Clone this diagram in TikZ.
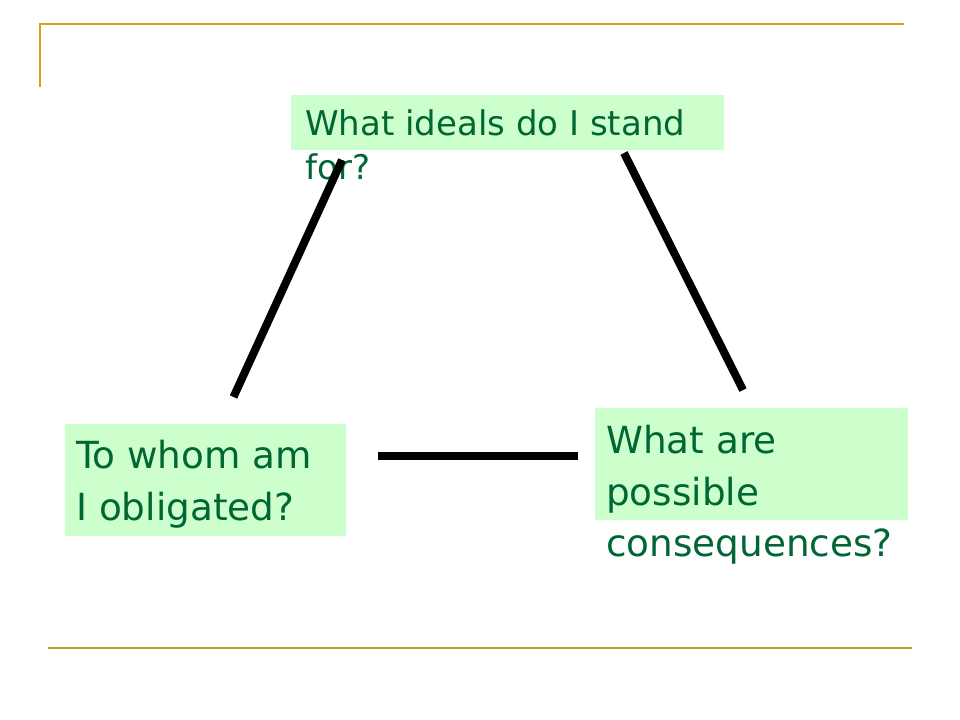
\documentclass[tikz,border=0pt]{standalone}
\usepackage{fontspec}
\setmainfont{DejaVu Sans}
\definecolor{boxgreen}{RGB}{204,255,204}
\definecolor{txtgreen}{RGB}{0,102,51}
\definecolor{goldtop}{RGB}{209,163,31}
\definecolor{goldbot}{RGB}{190,160,40}
\tikzset{
  greenbox/.style={rectangle, fill=boxgreen, draw=none, inner sep=0pt, anchor=north west},
  boxtext/.style={anchor=base west, inner sep=0pt, align=left, text=txtgreen},
  tieline/.style={line width=6pt, black},
}
\begin{document}
\begin{tikzpicture}[x=0.75pt, y=-0.75pt]
\useasboundingbox (0,0) rectangle (960,720);
% slide template lines
\draw[goldtop, line width=1.5pt] (40,87) -- (40,24) -- (904,24);
\draw[goldbot, line width=1.5pt] (48,648) -- (912,648);
% boxes
\node[greenbox, minimum width=432.75*0.75pt, minimum height=55*0.75pt] (topbox) at (291,95) {};
\node[greenbox, minimum width=281.5*0.75pt, minimum height=111.5*0.75pt] (leftbox) at (64.3,424) {};
\node[greenbox, minimum width=312.5*0.75pt, minimum height=112*0.75pt] (rightbox) at (595,408) {};
% texts (anchor = baseline of the last line)
\node[boxtext, font=\fontsize{25.5}{33}\selectfont] (toptext) at (305,180) {What ideals do I stand\\for?};
\node[boxtext, font=\fontsize{28}{38.8}\selectfont] (lefttext) at (76,520.7) {To whom am\\I obligated?};
\node[boxtext, font=\fontsize{28}{38.5}\selectfont] (righttext) at (606,556.5) {What are\\possible\\consequences?};
% connector end points
\coordinate (ltop) at (342,160);
\coordinate (lbot) at (233.5,397);
\coordinate (rtop) at (624,153);
\coordinate (rbot) at (743,390);
\coordinate (bl) at (378,456);
\coordinate (br) at (578,456);
\draw[tieline] (lbot) -- (ltop);
\draw[tieline] (rtop) -- (rbot);
\draw[tieline] (bl) -- (br);
\end{tikzpicture}
\end{document}
